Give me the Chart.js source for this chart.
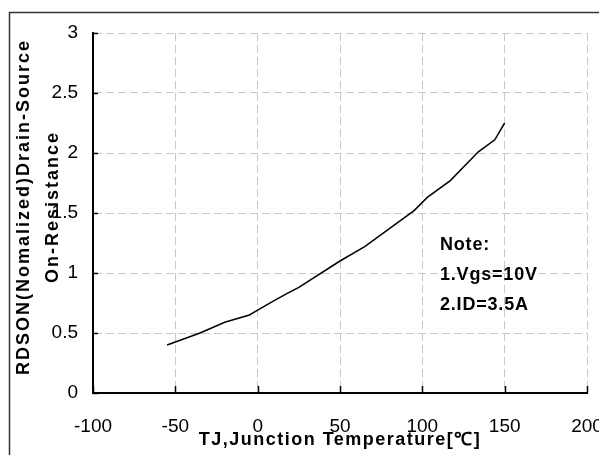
<!DOCTYPE html>
<html>
<head>
<meta charset="utf-8">
<script src="https://cdn.jsdelivr.net/npm/chart.js@4"></script>
<style>
  html, body { margin: 0; padding: 0; background: #fff; }
  #wrap { width: 599px; height: 455px; }
</style>
</head>
<body>
<div id="wrap"><canvas id="rdsonChart" width="599" height="455"></canvas></div>
<script>
// curve
const tempC = [-55, -35, -20, -5, 0, 10, 18, 25, 50, 65, 95, 103, 117, 134, 144, 150];
const rdsNorm = [0.40, 0.50, 0.59, 0.65, 0.69, 0.77, 0.83, 0.88, 1.10, 1.22, 1.52, 1.63, 1.77, 2.01, 2.11, 2.25];
const xTicks = [-100, -50, 0, 50, 100, 150, 200];
const yTicks = [0, 0.5, 1, 1.5, 2, 2.5, 3];
const yTitle = ["RDSON(Nomalized)Drain-Source", "On-Resistance"];
const xTitle = "TJ,Junction Temperature[℃]";
const noteLines = ["Note:", "1.Vgs=10V", "2.ID=3.5A"];

const FONT = "'Liberation Sans', Arial, sans-serif";

// frame, inner tick marks, axis titles and note
const extras = {
    id: "extras",
    beforeDraw(chart) {
        const ctx = chart.ctx;
        ctx.save();
        ctx.strokeStyle = "#333";
        ctx.lineWidth = 1.5;
        ctx.beginPath();
        ctx.moveTo(9.5, 455);
        ctx.lineTo(9.5, 12.5);
        ctx.lineTo(599, 12.5);
        ctx.stroke();
        ctx.restore();
    },
    afterDraw(chart) {
        const ctx = chart.ctx;
        const xs = chart.scales.x, ys = chart.scales.y;
        const area = chart.chartArea;
        ctx.save();
        ctx.strokeStyle = "#000";
        ctx.lineWidth = 1.5;
        ctx.beginPath();
        xTicks.forEach(v => {
            const px = Math.round(xs.getPixelForValue(v)) + 0.5;
            ctx.moveTo(px, area.bottom);
            ctx.lineTo(px, area.bottom - 7);
        });
        yTicks.forEach(v => {
            const py = Math.round(ys.getPixelForValue(v)) + 0.5;
            ctx.moveTo(area.left, py);
            ctx.lineTo(area.left + 5, py);
        });
        ctx.stroke();

        ctx.fillStyle = "#000";
        ctx.font = "bold 18px " + FONT;
        ctx.textAlign = "center";
        ctx.textBaseline = "middle";

        // x title
        ctx.letterSpacing = "1.5px";
        ctx.fillText(xTitle, (area.left + area.right) / 2, 440);

        // y title, two rotated lines
        ctx.letterSpacing = "2px";
        [24, 53].forEach((x, i) => {
            ctx.save();
            ctx.translate(x, 207);
            ctx.rotate(-Math.PI / 2);
            ctx.fillText(yTitle[i], 0, 0);
            ctx.restore();
        });

        // note
        ctx.letterSpacing = "0.8px";
        ctx.textAlign = "left";
        noteLines.forEach((t, i) => ctx.fillText(t, 440, 245 + i * 30));
        ctx.restore();
    }
};

const gridColor = edge => ctx => (ctx.tick && ctx.tick.value === edge) ? "rgba(0,0,0,0)" : "#c8c8c8";

new Chart(document.getElementById("rdsonChart"), {
    type: "scatter",
    data: {
        datasets: [{
            data: tempC.map((t, i) => ({ x: t, y: rdsNorm[i] })),
            showLine: true,
            borderColor: "#000",
            borderWidth: 1.5,
            pointRadius: 0,
            tension: 0
        }]
    },
    options: {
        responsive: false,
        animation: false,
        events: [],
        layout: { padding: { top: 33, right: 12, bottom: 0, left: 0 }, autoPadding: false },
        plugins: { legend: { display: false }, tooltip: { enabled: false } },
        scales: {
            x: {
                type: "linear",
                min: -100, max: 200,
                afterFit: s => { s.height = 62; s.paddingLeft = 0; s.paddingRight = 0; },
                afterBuildTicks: s => { s.ticks = xTicks.map(v => ({ value: v })); },
                ticks: { color: "#000", font: { family: FONT, size: 19 }, padding: 22, maxRotation: 0, autoSkip: false },
                grid: { color: gridColor(-100), lineWidth: 1, drawTicks: false },
                border: { color: "#000", width: 2, dash: [8, 4] }
            },
            y: {
                type: "linear",
                min: 0, max: 3,
                afterFit: s => { s.width = 93; s.paddingTop = 0; s.paddingBottom = 0; },
                afterBuildTicks: s => { s.ticks = yTicks.map(v => ({ value: v })); },
                ticks: { color: "#000", font: { family: FONT, size: 19 }, padding: 15, autoSkip: false, callback: v => String(v) },
                grid: { color: gridColor(0), lineWidth: 1, drawTicks: false },
                border: { color: "#000", width: 2, dash: [8, 4] }
            }
        }
    },
    plugins: [extras]
});
</script>
</body>
</html>
